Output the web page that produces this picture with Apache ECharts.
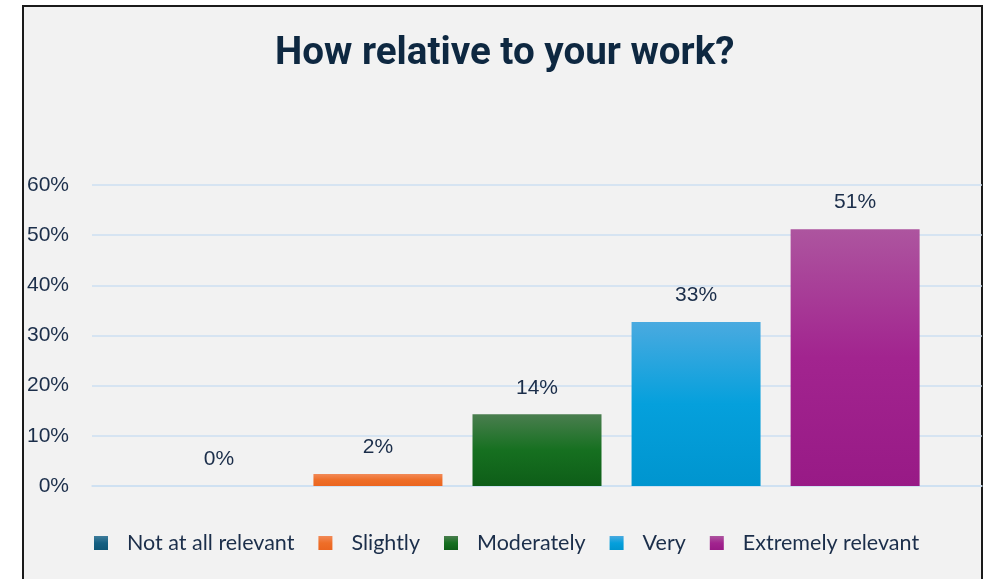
<!DOCTYPE html>
<html>
<head>
<meta charset="utf-8">
<script src="https://cdn.jsdelivr.net/npm/echarts@6/dist/echarts.min.js"></script>
<style>
html,body{margin:0;padding:0;background:#ffffff;}
#chart{width:984px;height:579px;}
</style>
</head>
<body>
<div id="chart"></div>
<script>
const titleText = 'How relative to your work?';
const seriesNames = ['Not at all relevant', 'Slightly', 'Moderately', 'Very', 'Extremely relevant'];
const seriesValues = [0, 2.4, 14.3, 32.7, 51.2];
const yTicks = [0, 10, 20, 30, 40, 50, 60];
const topColors = ['#3f7d9c', '#f28a58', '#4a7e4f', '#4aaae0', '#ad559f'];
const midColors = ['#156082', '#ee6e28', '#167020', '#05a0dc', '#a2248f'];
const bottomColors = ['#0f5676', '#eb6520', '#0e5e18', '#0095cf', '#981a86'];

const chart = echarts.init(document.getElementById('chart'));
const textColor = '#1b2e4a';

const series = seriesNames.map((name, i) => ({
  name: name,
  type: 'bar',
  data: [seriesValues[i]],
  barWidth: 129,
  barGap: '23.3%',
  itemStyle: {
    color: new echarts.graphic.LinearGradient(0, 0, 0, 1, [
      {offset: 0, color: topColors[i]},
      {offset: 0.5, color: midColors[i]},
      {offset: 1, color: bottomColors[i]}
    ])
  },
  label: {
    show: true,
    position: 'top',
    distance: 16,
    fontSize: 21,
    fontFamily: 'Liberation Sans',
    color: textColor,
    formatter: p => Math.round(p.value) + '%'
  }
}));

chart.setOption({
  backgroundColor: '#ffffff',
  animation: false,
  graphic: [{
    type: 'rect',
    z: -10,
    silent: true,
    shape: {x: 23, y: 6, width: 959, height: 600},
    style: {fill: '#f2f2f2', stroke: '#1a1a1a', lineWidth: 2}
  }],
  title: {
    text: titleText,
    left: 270,
    top: 30,
    textStyle: {
      fontSize: 38.6,
      fontWeight: 'bold',
      fontFamily: 'Roboto',
      color: '#0e2841'
    }
  },
  legend: {
    data: seriesNames,
    top: 532,
    left: 94,
    padding: 0,
    itemWidth: 14,
    itemHeight: 14,
    itemGap: 24,
    icon: 'rect',
    textStyle: {
      fontSize: 21.5,
      fontFamily: 'Lato',
      color: textColor,
      padding: [0, 0, 0, 14]
    }
  },
  grid: {left: 92, right: 2, top: 185, bottom: 93},
  xAxis: {
    type: 'category',
    data: [''],
    axisLine: {show: true, lineStyle: {color: '#cddff2', width: 1.5}},
    axisTick: {show: false},
    axisLabel: {show: false}
  },
  yAxis: {
    type: 'value',
    min: yTicks[0],
    max: yTicks[yTicks.length - 1],
    interval: 10,
    axisLine: {show: false},
    axisTick: {show: false},
    axisLabel: {
      margin: 23,
      fontSize: 21,
      fontFamily: 'Liberation Sans',
      color: textColor,
      formatter: v => v + '%'
    },
    splitLine: {lineStyle: {color: '#cddff2', width: 1.5}}
  },
  series: series
});
</script>
</body>
</html>
